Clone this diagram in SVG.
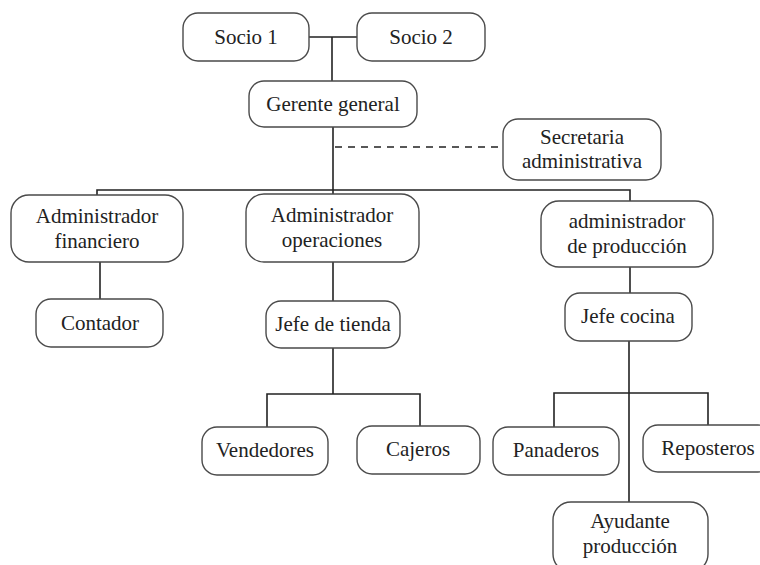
<svg xmlns="http://www.w3.org/2000/svg" width="760" height="565" viewBox="0 0 760 565">
<style>
.box{fill:#fff;stroke:#4a4a4a;stroke-width:1.4}
.t{font-family:'Liberation Serif','Tinos','Times New Roman','DejaVu Serif',serif;font-size:21px;fill:#222;text-anchor:middle}
.ln{fill:none;stroke:#222;stroke-width:1.6}
.dash{fill:none;stroke:#222;stroke-width:1.6;stroke-dasharray:7 6}
</style>
<rect width="760" height="565" fill="#fff"/>
<g id="connectors">
<path class="ln" d="M309 37H357M332 37V81"/>
<path class="ln" d="M333 127V194"/>
<path class="dash" d="M335 147H503"/>
<path class="ln" d="M97 195V190H630V201"/>
<path class="ln" d="M100 262V299"/>
<path class="ln" d="M333 262V301"/>
<path class="ln" d="M630 267V293"/>
<path class="ln" d="M333 348V394M267 427V394H420V426"/>
<path class="ln" d="M629 341V502M554 427V393H708V425"/>
</g>
<g id="socio1"><rect class="box" x="183" y="13" width="126" height="48" rx="15"/><text class="t" x="246" y="44">Socio 1</text></g>
<g id="socio2"><rect class="box" x="357" y="13" width="128" height="48" rx="15"/><text class="t" x="421" y="44">Socio 2</text></g>
<g id="gerente"><rect class="box" x="249" y="81" width="168" height="46" rx="15"/><text class="t" x="333" y="111">Gerente general</text></g>
<g id="secretaria"><rect class="box" x="503" y="119" width="158" height="61" rx="15"/><text class="t" x="582" y="144">Secretaria</text><text class="t" x="582" y="168">administrativa</text></g>
<g id="adm-fin"><rect class="box" x="11" y="195" width="172" height="67" rx="18"/><text class="t" x="97" y="223">Administrador</text><text class="t" x="97" y="248">financiero</text></g>
<g id="adm-ops"><rect class="box" x="246" y="194" width="173" height="68" rx="18"/><text class="t" x="332" y="222">Administrador</text><text class="t" x="332" y="247">operaciones</text></g>
<g id="adm-prod"><rect class="box" x="541" y="201" width="172" height="66" rx="18"/><text class="t" x="627" y="228">administrador</text><text class="t" x="627" y="253">de producción</text></g>
<g id="contador"><rect class="box" x="36" y="299" width="127" height="48" rx="15"/><text class="t" x="100" y="330">Contador</text></g>
<g id="jefe-tienda"><rect class="box" x="266" y="301" width="134" height="47" rx="15"/><text class="t" x="333" y="331">Jefe de tienda</text></g>
<g id="jefe-cocina"><rect class="box" x="565" y="293" width="127" height="48" rx="15"/><text class="t" x="628" y="323">Jefe cocina</text></g>
<g id="vendedores"><rect class="box" x="202" y="427" width="126" height="48" rx="15"/><text class="t" x="265" y="457">Vendedores</text></g>
<g id="cajeros"><rect class="box" x="357" y="426" width="123" height="48" rx="15"/><text class="t" x="418" y="456">Cajeros</text></g>
<g id="panaderos"><rect class="box" x="493" y="427" width="126" height="48" rx="15"/><text class="t" x="556" y="457">Panaderos</text></g>
<g id="reposteros"><rect class="box" x="643" y="425" width="130" height="47" rx="15"/><text class="t" x="708" y="455">Reposteros</text></g>
<g id="ayudante"><rect class="box" x="553" y="502" width="155" height="70" rx="18"/><text class="t" x="630" y="528">Ayudante</text><text class="t" x="630" y="553">producción</text></g>
</svg>
